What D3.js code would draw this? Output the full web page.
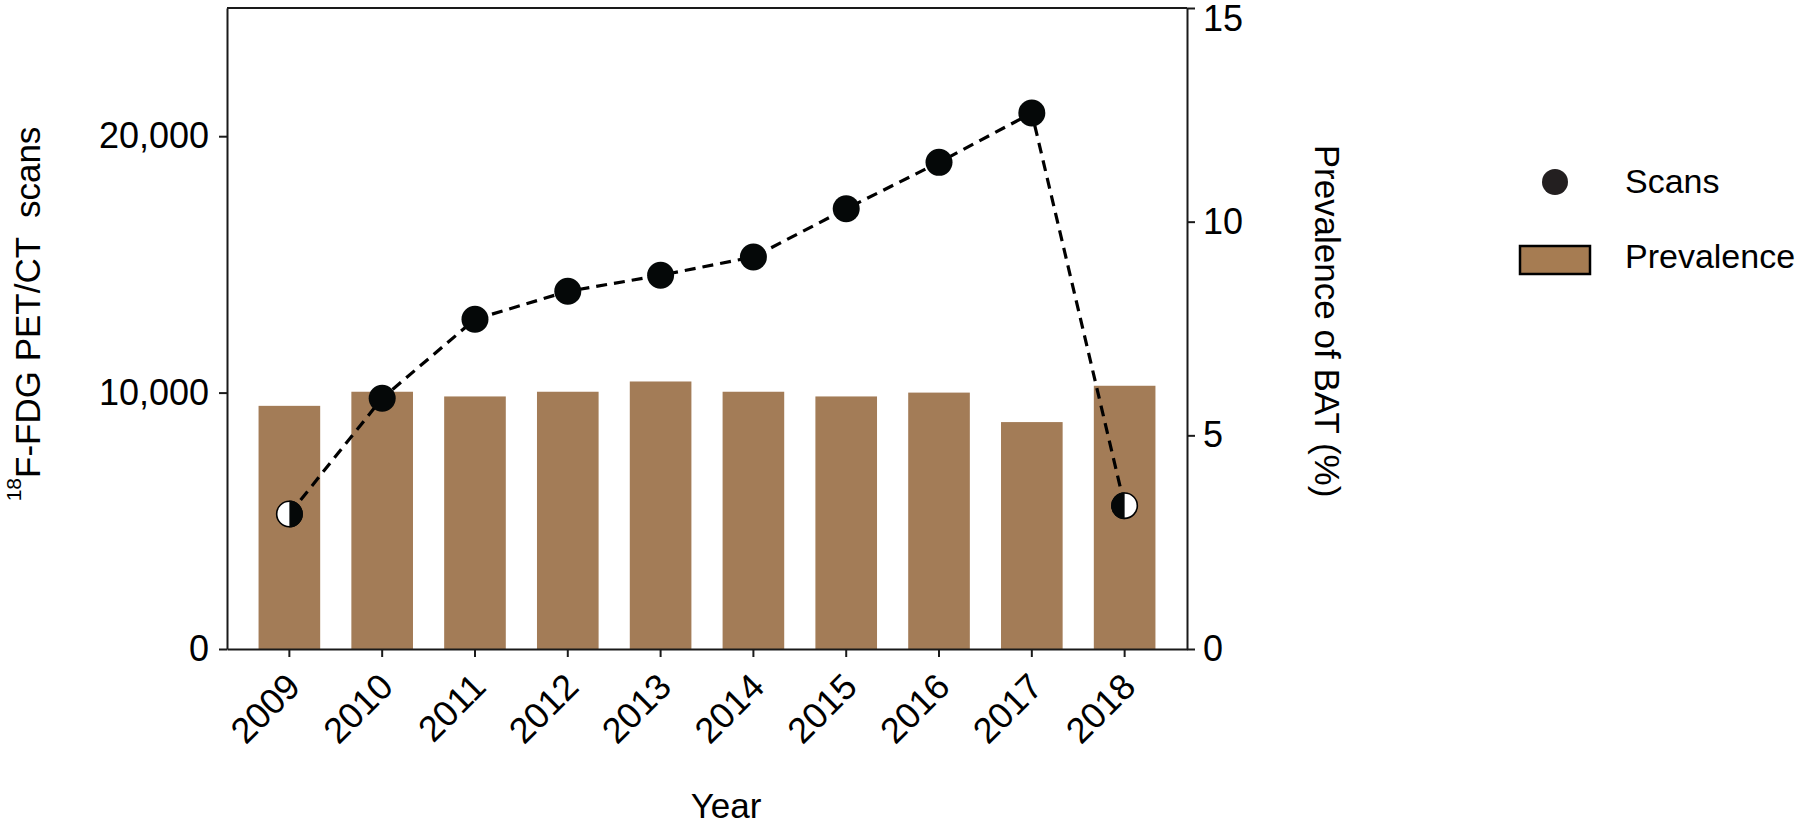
<!DOCTYPE html>
<html>
<head>
<meta charset="utf-8">
<script src="https://cdn.jsdelivr.net/npm/d3@7"></script>
<style>
  body { margin: 0; background: #fff; }
  text { font-family: "Liberation Sans", Arial, sans-serif; fill: #000; }
</style>
</head>
<body>
<div id="chart"></div>
<script>
/* DATA */
const years = [2009, 2010, 2011, 2012, 2013, 2014, 2015, 2016, 2017, 2018];
const scans = [5265, 9780, 12860, 13950, 14575, 15290, 17170, 18980, 20905, 5590];
const prevalence = [5.69, 6.02, 5.91, 6.02, 6.26, 6.02, 5.91, 6.00, 5.31, 6.16];
const leftTicks = [0, 10000, 20000];
const rightTicks = [0, 5, 10, 15];
const legendItems = ["Scans", "Prevalence"];

/* CONSTANTS */
const width = 1800,
  height = 826,
  margin = { top: 8, bottom: 177, left: 227, right: 613 },
  barColor = "#a37c57",
  radius = 13.5;

// first and last points are drawn half filled
const halfMarkers = { 2009: "right", 2018: "left" };

const svg = d3.select("#chart")
  .append("svg")
  .attr("width", width)
  .attr("height", height);

// scales
const xScale = d3.scaleBand()
  .domain(years)
  .range([margin.left, width - margin.right])
  .paddingInner(0.336)
  .paddingOuter(0.34);

const yLeft = d3.scaleLinear()
  .domain([0, 25000])
  .range([height - margin.bottom, margin.top]);

const yRight = d3.scaleLinear()
  .domain([0, 15])
  .range([height - margin.bottom, margin.top]);

// bars (prevalence, right axis)
svg.append("g")
  .selectAll("rect")
  .data(years)
  .join("rect")
  .attr("x", d => xScale(d))
  .attr("width", xScale.bandwidth())
  .attr("y", (d, i) => yRight(prevalence[i]))
  .attr("height", (d, i) => yRight(0) - yRight(prevalence[i]))
  .attr("fill", barColor);

// axes
const axisStyle = g => {
  g.selectAll("path, line").attr("stroke", "#1a1a1a").attr("stroke-width", 2);
  g.selectAll("text").attr("font-size", 36).attr("fill", "#000")
    .style("font-family", '"Liberation Sans", Arial, sans-serif');
};

svg.append("g")
  .attr("transform", `translate(${margin.left},0)`)
  .call(d3.axisLeft(yLeft).tickValues(leftTicks).tickSize(8).tickSizeOuter(0)
    .tickPadding(10).tickFormat(d3.format(",")))
  .call(axisStyle);

const rightAxisG = svg.append("g")
  .attr("transform", `translate(${width - margin.right},0)`)
  .call(d3.axisRight(yRight).tickValues(rightTicks).tickSize(8).tickSizeOuter(0)
    .tickPadding(8))
  .call(axisStyle);

// keep the top label inside the page
rightAxisG.selectAll(".tick text").filter(d => d === 15).attr("dy", "0.62em");

const xAxisG = svg.append("g")
  .attr("transform", `translate(0,${height - margin.bottom})`)
  .call(d3.axisBottom(xScale).tickSize(8).tickSizeOuter(0))
  .call(axisStyle);

xAxisG.selectAll(".tick text")
  .attr("text-anchor", "end")
  .attr("dy", "0.35em")
  .attr("y", 0)
  .attr("transform", "translate(4,31) rotate(-45)");

// top frame line
svg.append("line")
  .attr("x1", margin.left)
  .attr("x2", width - margin.right)
  .attr("y1", margin.top)
  .attr("y2", margin.top)
  .attr("stroke", "#1a1a1a")
  .attr("stroke-width", 2);

// scans line
const cx = d => xScale(d) + xScale.bandwidth() / 2;

const line = d3.line()
  .x(d => cx(d))
  .y((d, i) => yLeft(scans[i]));

svg.append("path")
  .datum(years)
  .attr("d", line)
  .attr("fill", "none")
  .attr("stroke", "#000")
  .attr("stroke-width", 3.2)
  .attr("stroke-dasharray", "11,7");

const halfArc = d3.arc().innerRadius(0).outerRadius(radius);

const marks = svg.append("g")
  .selectAll("g")
  .data(years)
  .join("g")
  .attr("transform", (d, i) => `translate(${cx(d)},${yLeft(scans[i])})`);

marks.each(function (d) {
  const g = d3.select(this);
  const side = halfMarkers[d];
  if (!side) {
    g.append("circle").attr("r", radius).attr("fill", "#050808");
  } else {
    g.append("circle").attr("r", radius - 0.8).attr("fill", "#fff")
      .attr("stroke", "#000").attr("stroke-width", 1.6);
    g.append("path")
      .attr("d", side === "right"
        ? halfArc({ startAngle: 0, endAngle: Math.PI })
        : halfArc({ startAngle: Math.PI, endAngle: 2 * Math.PI }))
      .attr("fill", "#050808");
  }
});

// axis titles
const leftTitle = svg.append("text")
  .attr("transform", "translate(40,314) rotate(-90)")
  .attr("text-anchor", "middle")
  .attr("font-size", 35)
  .style("white-space", "pre");
leftTitle.append("tspan")
  .attr("font-size", 21)
  .attr("baseline-shift", "19")
  .text("18");
leftTitle.append("tspan")
  .text("F-FDG PET/CT  scans");

svg.append("text")
  .attr("transform", "translate(1315,321) rotate(90)")
  .attr("text-anchor", "middle")
  .attr("font-size", 35)
  .text("Prevalence of BAT (%)");

svg.append("text")
  .attr("x", 726)
  .attr("y", 818)
  .attr("text-anchor", "middle")
  .attr("font-size", 35)
  .text("Year");

// legend
const legend = svg.append("g");
legend.append("circle")
  .attr("cx", 1555)
  .attr("cy", 182)
  .attr("r", 13)
  .attr("fill", "#231f20");
legend.append("rect")
  .attr("x", 1520)
  .attr("y", 246)
  .attr("width", 70)
  .attr("height", 28)
  .attr("fill", "#a67c52")
  .attr("stroke", "#000")
  .attr("stroke-width", 2.5);
legend.selectAll("text")
  .data(legendItems)
  .join("text")
  .attr("x", 1625)
  .attr("y", (d, i) => 193 + i * 75)
  .attr("font-size", 34)
  .text(d => d);
</script>
</body>
</html>
